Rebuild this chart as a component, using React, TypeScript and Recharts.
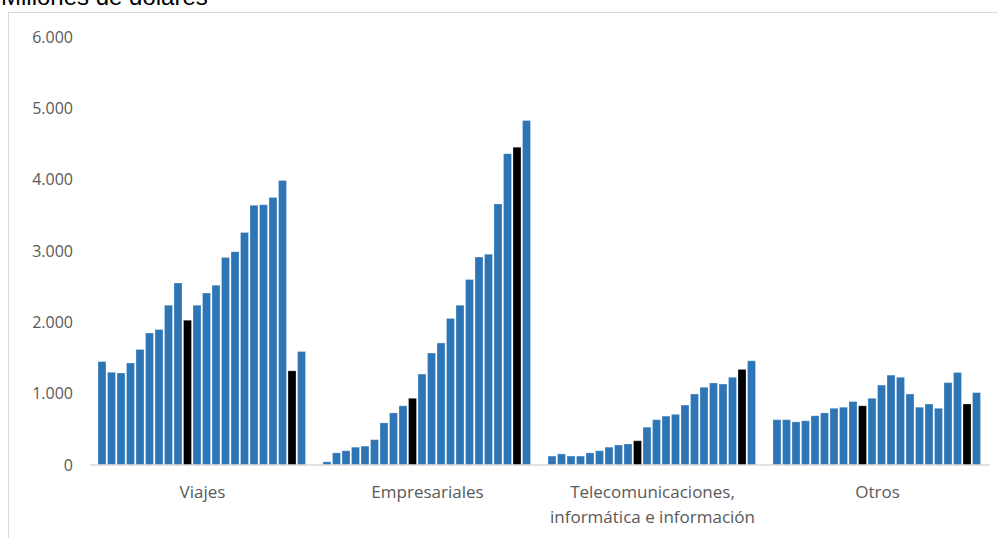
import React from 'react';
import { BarChart, Bar, XAxis, YAxis } from 'recharts';

// Exportaciones de servicios por rubro, 2000-2021 (millones de dólares)
const years = [
  2000, 2001, 2002, 2003, 2004, 2005, 2006, 2007, 2008, 2009, 2010,
  2011, 2012, 2013, 2014, 2015, 2016, 2017, 2018, 2019, 2020, 2021,
];
const categories = ['Viajes', 'Empresariales', 'Telecomunicaciones,\ninformática e información', 'Otros'];

const viajes = [1450, 1300, 1290, 1430, 1620, 1850, 1900, 2240, 2550, 2030, 2240, 2410, 2520, 2910, 2990, 3260, 3640, 3650, 3750, 3990, 1320, 1590];
const empresariales = [45, 170, 200, 250, 265, 355, 590, 730, 830, 935, 1275, 1570, 1710, 2055, 2240, 2600, 2915, 2955, 3660, 4365, 4455, 4830];
const telecom = [125, 155, 125, 125, 170, 200, 250, 280, 295, 340, 530, 635, 685, 710, 840, 995, 1090, 1150, 1135, 1230, 1340, 1460];
const otros = [635, 635, 605, 620, 690, 730, 795, 810, 890, 830, 935, 1120, 1260, 1230, 995, 810, 855, 795, 1155, 1295, 855, 1015];

const yTicks = [0, 1000, 2000, 3000, 4000, 5000, 6000];
const highlightYears = [2009, 2020];

const BLUE = '#2E75B6';
const BLACK = '#000000';

const series = [viajes, empresariales, telecom, otros];
const data = categories.map((name, i) => {
  const row: any = { name };
  years.forEach((y, j) => {
    row['y' + y] = series[i][j];
  });
  return row;
});

const fmt = (v: number) => String(v).replace(/\B(?=(\d{3})+(?!\d))/g, '.');

const CategoryTick = (props: any) => {
  const { x, y, payload } = props;
  const lines = String(payload.value).split('\n');
  return (
    <text x={x} y={y} textAnchor="middle" fill="#595959" fontSize={17} fontFamily="'Open Sans', sans-serif">
      {lines.map((l, i) => (
        <tspan key={i} x={x} dy={25}>{l}</tspan>
      ))}
    </text>
  );
};

export default function App() {
  return (
    <div style={{ position: 'absolute', left: 0, top: 0, width: 998, height: 538, overflow: 'hidden', background: '#fff' }}>
      <div style={{ position: 'absolute', left: 8, top: 12, width: 1010, height: 560, border: '1px solid #d9d9d9' }} />
      <div style={{ position: 'absolute', left: 1, top: -17, fontFamily: "'Liberation Sans', Arial, sans-serif", fontSize: 24, color: '#000', whiteSpace: 'nowrap' }}>
        Millones de dólares
      </div>
      <div style={{ position: 'absolute', left: 0, top: 0 }}>
        <BarChart
          width={998}
          height={538}
          data={data}
          margin={{ top: 37, right: 8, bottom: 0, left: 0 }}
          barCategoryGap={8}
          barGap={1.5}
        >
          <XAxis
            dataKey="name"
            interval={0}
            height={73}
            axisLine={{ stroke: '#d9d9d9', strokeWidth: 1.5 }}
            tickLine={false}
            tick={<CategoryTick />}
          />
          <YAxis
            width={90}
            domain={[0, 6000]}
            ticks={yTicks}
            axisLine={false}
            tickLine={false}
            tickSize={0}
            tickMargin={17}
            tickFormatter={fmt}
            tick={{ fill: '#595959', fontSize: 16, fontFamily: "'Open Sans', sans-serif" }}
          />
          {years.map((y) => (
            <Bar
              key={y}
              dataKey={'y' + y}
              fill={highlightYears.includes(y) ? BLACK : BLUE}
              stroke="#ffffff"
              strokeOpacity={0.45}
              strokeWidth={0.6}
              isAnimationActive={false}
            />
          ))}
        </BarChart>
      </div>
    </div>
  );
}
